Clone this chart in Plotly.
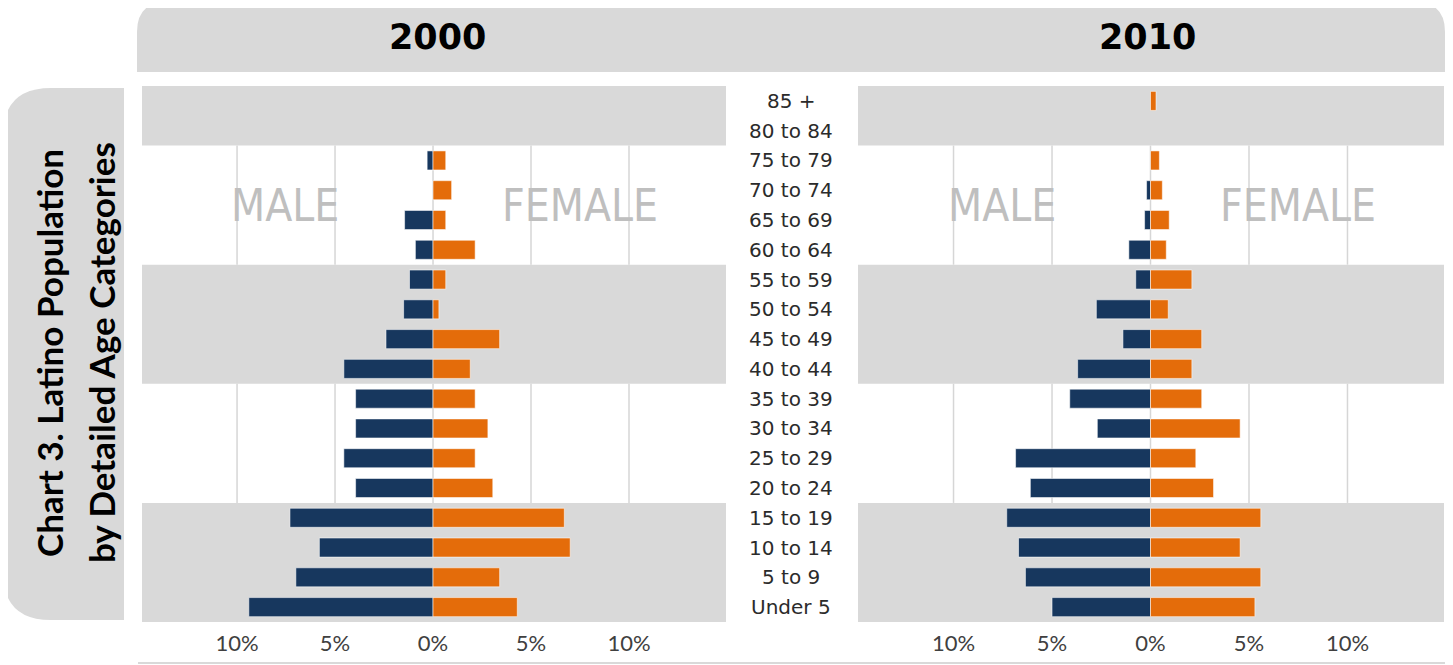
import plotly.graph_objects as go

# page is 1453x665; the html body has an 8px margin, so the figure is a bit smaller
OFF = 8
W, H = 1453 - OFF, 665 - OFF

# ---------------- data (percent of population) ----------------
ages = ["Under 5", "5 to 9", "10 to 14", "15 to 19", "20 to 24", "25 to 29",
        "30 to 34", "35 to 39", "40 to 44", "45 to 49", "50 to 54", "55 to 59",
        "60 to 64", "65 to 69", "70 to 74", "75 to 79", "80 to 84", "85 +"]
male_2000 = [9.4, 7.0, 5.8, 7.3, 3.95, 4.55, 3.95, 3.95, 4.55, 2.4, 1.5, 1.2,
             0.9, 1.45, 0.0, 0.3, 0.0, 0.0]
female_2000 = [4.3, 3.4, 7.0, 6.7, 3.05, 2.15, 2.8, 2.15, 1.9, 3.4, 0.3, 0.65,
               2.15, 0.65, 0.95, 0.65, 0.0, 0.0]
male_2010 = [5.0, 6.35, 6.7, 7.3, 6.1, 6.85, 2.7, 4.1, 3.7, 1.4, 2.75, 0.75,
             1.1, 0.3, 0.2, 0.0, 0.0, 0.0]
female_2010 = [5.3, 5.6, 4.55, 5.6, 3.2, 2.3, 4.55, 2.6, 2.1, 2.6, 0.9, 2.1,
               0.8, 0.95, 0.6, 0.45, 0.0, 0.28]
tick_vals = [-10, -5, 0, 5, 10]
tick_text = ["10%", "5%", "0%", "5%", "10%"]
years = ["2000", "2010"]
title_lines = ["Chart 3. Latino Population", "by Detailed Age Categories"]

MALE_C = "#17375E"
FEMALE_C = "#E46C0A"
BAND = "#D9D9D9"
GRID = "#D6D6D6"


def px(x):
    return (x - OFF) / W


def py(y):
    return 1 - (y - OFF) / H


def nz(vals, sign=1):
    # empty categories draw no bar at all (not even an outline)
    return [sign * v if v else None for v in vals]


fig = go.Figure()

for i, (m, f) in enumerate([(male_2000, female_2000), (male_2010, female_2010)]):
    xa = "x" if i == 0 else "x2"
    ya = "y" if i == 0 else "y2"
    fig.add_trace(go.Bar(y=ages, x=nz(m, -1), orientation="h", xaxis=xa, yaxis=ya,
                         marker=dict(color=MALE_C, line=dict(color="rgba(255,255,255,0.55)", width=1)),
                         width=0.64, name="Male", showlegend=False))
    fig.add_trace(go.Bar(y=ages, x=nz(f), orientation="h", xaxis=xa, yaxis=ya,
                         marker=dict(color=FEMALE_C, line=dict(color="rgba(255,255,255,0.55)", width=1)),
                         width=0.64, name="Female", showlegend=False))

ydom = [py(622), py(86)]
xcommon = dict(tickvals=tick_vals, ticktext=tick_text, showgrid=False,
               zeroline=False, showline=False, ticks="",
               tickfont=dict(family="Lato, Noto Sans, sans-serif", size=22, color="#404040"),
               ticklabelstandoff=6, fixedrange=True)
ycommon = dict(type="category", categoryorder="array", categoryarray=ages,
               range=[-0.5, len(ages) - 0.5], showticklabels=False, showgrid=False,
               zeroline=False, showline=False, ticks="", domain=ydom, fixedrange=True)

fig.update_layout(
    width=W, height=H, autosize=False,
    margin=dict(l=0, r=0, t=0, b=0),
    paper_bgcolor="white", plot_bgcolor="white",
    barmode="relative", bargap=0.36,
    xaxis=dict(domain=[px(142), px(726)], range=[-14.85, 14.95], anchor="y", **xcommon),
    xaxis2=dict(domain=[px(858), px(1444)], range=[-14.85, 14.9], anchor="y2", **xcommon),
    yaxis=dict(anchor="x", **ycommon),
    yaxis2=dict(anchor="x2", **ycommon),
)

shapes = []
gray_bands = [(-0.5, 3.5), (7.5, 11.5), (15.5, 17.5)]
white_bands = [(3.5, 7.5), (11.5, 15.5)]
for xr, xd, yr in [("x", "x domain", "y"), ("x2", "x2 domain", "y2")]:
    for lo, hi in gray_bands:
        shapes.append(dict(type="rect", xref=xd, yref=yr, x0=0, x1=1, y0=lo, y1=hi,
                           fillcolor=BAND, line=dict(width=0), layer="below"))
    # vertical gridlines, visible only in the white bands
    for lo, hi in white_bands:
        for tv in tick_vals:
            shapes.append(dict(type="line", xref=xr, yref=yr, x0=tv, x1=tv, y0=lo, y1=hi,
                               line=dict(color=GRID, width=1.5), layer="below"))

# header band with rounded top corners
r = 30
hdr = (f"M {px(137)},{py(72)} L {px(137)},{py(2 + r)} Q {px(137)},{py(2)} {px(137 + r)},{py(2)} "
       f"L {px(1445 - r)},{py(2)} Q {px(1445)},{py(2)} {px(1445)},{py(2 + r)} "
       f"L {px(1445)},{py(72)} Z")
shapes.append(dict(type="path", xref="paper", yref="paper", path=hdr, fillcolor=BAND,
                   line=dict(width=0), layer="below"))
# left sidebar with rounded left corners
r2 = 48
sb = (f"M {px(124)},{py(88)} L {px(3 + r2)},{py(88)} Q {px(3)},{py(88)} {px(3)},{py(88 + r2)} "
      f"L {px(3)},{py(620 - r2)} Q {px(3)},{py(620)} {px(3 + r2)},{py(620)} "
      f"L {px(124)},{py(620)} Z")
shapes.append(dict(type="path", xref="paper", yref="paper", path=sb, fillcolor=BAND,
                   line=dict(width=0), layer="below"))
# bottom rule
shapes.append(dict(type="line", xref="paper", yref="paper", x0=px(138), x1=1, y0=py(663), y1=py(663),
                   line=dict(color=BAND, width=2)))
fig.update_layout(shapes=shapes)

ann = []
# year headers
for yr_txt, cx in zip(years, [437, 1147]):
    ann.append(dict(text=yr_txt, xref="paper", yref="paper", x=px(cx), y=py(37),
                    showarrow=False, xanchor="center", yanchor="middle",
                    font=dict(family="DejaVu Sans, sans-serif", size=35, color="#000000", weight="bold")))
# sidebar title
for line, cx in zip(title_lines, [49, 101]):
    ann.append(dict(text=line, xref="paper", yref="paper", x=px(cx), y=py(353), textangle=-90,
                    showarrow=False, xanchor="center", yanchor="middle",
                    font=dict(family="Lato, Noto Sans, sans-serif", size=35, color="#000000", weight="bold")))
# age labels in the middle column
for a in ages:
    ann.append(dict(text=a, xref="paper", yref="y", x=px(791), y=a, showarrow=False,
                    xanchor="center", yanchor="middle",
                    font=dict(family="DejaVu Sans, sans-serif", size=20, color="#2B2B2B")))
# MALE / FEMALE watermarks
for xr, yr in [("x", "y"), ("x2", "y2")]:
    for word, xv in [("MALE", -7.55), ("FEMALE", 7.5)]:
        ann.append(dict(text=word, xref=xr, yref=yr, x=xv, y=13.5, showarrow=False,
                        xanchor="center", yanchor="middle",
                        font=dict(family="DejaVu Sans Condensed, Lato, sans-serif",
                                  size=44, color="#BFBFBF")))
fig.update_layout(annotations=ann)

fig.write_html("out.html")
